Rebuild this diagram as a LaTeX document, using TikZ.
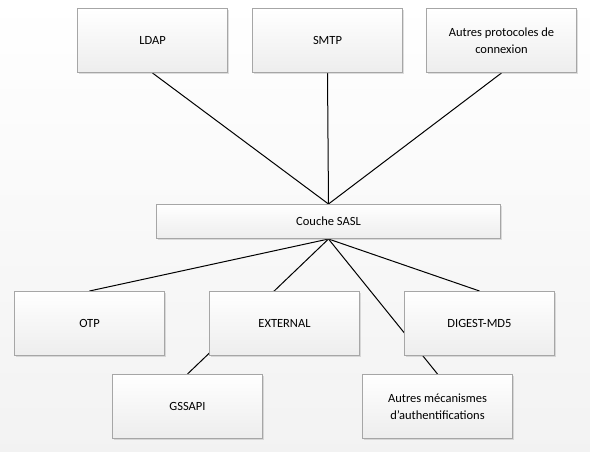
\documentclass[tikz,border=0pt]{standalone}
\usepackage{fontspec}
\setmainfont{Carlito}
\usetikzlibrary{shadows, backgrounds}

\tikzset{
    boite/.style={draw=gray!70, line width=1pt, top color=white, bottom color=gray!14,
        minimum width=150pt, minimum height=64pt, inner sep=2pt, align=center,
        font=\fontsize{12.5}{16.5}\selectfont,
        drop shadow={shadow xshift=1.5pt, shadow yshift=-1.5pt, opacity=0.25, fill=gray}},
    lien/.style={line width=1pt, black}
}

\begin{document}
\begin{tikzpicture}[x=1pt, y=-1pt]
    \useasboundingbox (0,0) rectangle (590,452);

    % protocoles
    \node[boite] (ldap) at (152.5, 40.5) {LDAP};
    \node[boite] (smtp) at (327.5, 40.5) {SMTP};
    \node[boite] (autresproto) at (501.5, 40.5) {Autres protocoles de\\connexion};

    % couche SASL
    \node[boite, minimum width=344pt, minimum height=34pt] (sasl) at (328.5, 221.5) {Couche SASL};

    % mecanismes
    \node[boite] (otp) at (89.5, 323.5) {OTP};
    \node[boite] (external) at (284.5, 323.5) {EXTERNAL};
    \node[boite] (digest) at (479.5, 323.5) {DIGEST-MD5};
    \node[boite] (gssapi) at (187.5, 406.5) {GSSAPI};
    \node[boite] (autresmeca) at (437.5, 406.5) {Autres mécanismes\\d’authentifications};

    % fond et liens derriere les boites
    \begin{pgfonlayer}{background}
        \fill[top color=white, bottom color=gray!10] (0,0) rectangle (590,452);
        \draw[lien] (ldap.south) -- (sasl.north);
        \draw[lien] (smtp.south) -- (sasl.north);
        \draw[lien] (autresproto.south) -- (sasl.north);
        \draw[lien] (sasl.south) -- (otp.north);
        \draw[lien] (sasl.south) -- (gssapi.north);
        \draw[lien] (sasl.south) -- (autresmeca.north);
        \draw[lien] (sasl.south) -- (digest.north);
    \end{pgfonlayer}
\end{tikzpicture}
\end{document}
